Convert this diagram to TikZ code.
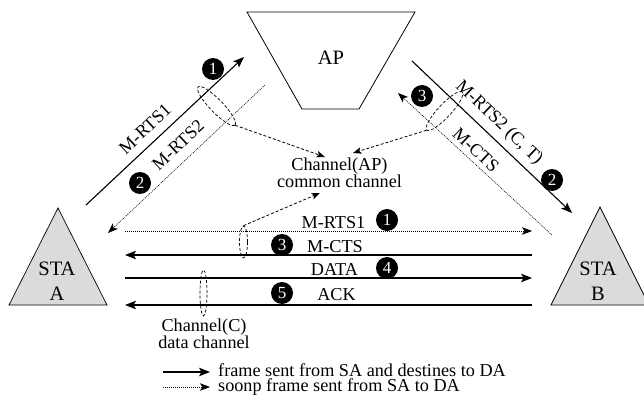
\documentclass[tikz,border=0pt]{standalone}
\usepackage{fontspec}
\setmainfont{Liberation Serif}
\usetikzlibrary{arrows.meta,shapes.geometric}
\definecolor{stagray}{gray}{0.86}
\begin{document}
\begin{tikzpicture}[x=1pt,y=-1pt,
  lbl/.style={font=\fontsize{18.2}{17}\selectfont, inner sep=0pt},
  big/.style={font=\fontsize{20.5}{25}\selectfont, inner sep=0pt},
  num/.style={circle, fill=black, text=white, minimum size=22pt, inner sep=0pt,
    font=\fontsize{17}{17}\selectfont},
  solidline/.style={line width=1.1pt},
  solidarrow/.style={solidline, -{Stealth[length=11pt,width=8.5pt,inset=2.5pt]}},
  dotline/.style={line width=0.6pt, dash pattern=on 1pt off 1pt},
  dotarrow/.style={dotline, -{Stealth[length=10pt,width=7.5pt,inset=2.5pt]}},
  chan/.style={draw, ellipse, line width=0.7pt, inner sep=0pt,
    dash pattern=on 3pt off 2pt},
  ptr/.style={line width=0.8pt, dash pattern=on 3pt off 2pt,
    -{Stealth[length=8.5pt,width=6.5pt,inset=2pt]}},
  station/.style={draw, line width=0.7pt, fill=stagray}
]
\useasboundingbox (0,0) rectangle (644,398);

% access point and the two stations
\draw[line width=0.8pt] (247,12) -- (415,12) -- (359,109) -- (302,109) -- cycle;
\node[big, anchor=base] (ap) at (331,65) {AP};
\draw[station] (58,208) -- (107,305) -- (9,305) -- cycle;
\draw[station] (600,207) -- (649,305) -- (551,305) -- cycle;
% multi-line nodes: the base anchor sits on the last line
\node[big, anchor=base, align=center] (staA) at (57,300) {STA\\A};
\node[big, anchor=base, align=center] (staB) at (598,300) {STA\\B};

% end points of the frames exchanged on the common channel
\coordinate (a1s) at (86,205);  \coordinate (a1e) at (244,57);
\coordinate (a2s) at (265,85);  \coordinate (a2e) at (108,233);
\coordinate (b1s) at (412,61);  \coordinate (b1e) at (572,213);
\coordinate (b2s) at (552,235); \coordinate (b2e) at (398,93);

\draw[solidarrow] (a1s) -- (a1e);
\draw[dotarrow] (a2s) -- (a2e);
\draw[solidarrow] (b1s) -- (b1e);
\draw[dotarrow] (b2s) -- (b2e);

\node[lbl, rotate=43] (lRTS1) at (145,129) {M-RTS1};
\node[lbl, rotate=43] (lRTS2) at (178,145) {M-RTS2};
\node[lbl, rotate=-43.5] (rRTS2) at (499,123) {M-RTS2 (C, T)};
\node[lbl, rotate=-43] (rCTS) at (476,150) {M-CTS};

\node[num] (n1a) at (213,69) {1};
\node[num] (n2a) at (140,183) {2};
\node[num] (n3b) at (422,96) {3};
\node[num] (n2b) at (552,180) {2};

% frames between the two stations
\coordinate (hL1) at (125,231); \coordinate (hR1) at (532,231);
\coordinate (hL2) at (125,255); \coordinate (hR2) at (532,255);
\coordinate (hL3) at (125,278); \coordinate (hR3) at (532,278);
\coordinate (hL4) at (125,305); \coordinate (hR4) at (532,305);
\draw[dotarrow] (hL1) -- (hR1);
\draw[solidarrow] (hR2) -- (hL2);
\draw[solidarrow] (hL3) -- (hR3);
\draw[solidarrow] (hR4) -- (hL4);

\node[lbl, anchor=base] (tRTS1) at (333.5,228) {M-RTS1};
\node[lbl, anchor=base] (tCTS) at (335,252) {M-CTS};
\node[lbl, anchor=base] (tDATA) at (334.5,275) {DATA};
\node[lbl, anchor=base] (tACK) at (336.5,300) {ACK};

\node[num] (n1h) at (387,220) {1};
\node[num] (n3h) at (282,245) {3};
\node[num] (n4h) at (387,268) {4};
\node[num] (n5h) at (282,293) {5};

% channel groupings
\node[chan, minimum width=53pt, minimum height=13pt, rotate=-46] (elA) at (216.5,106) {};
\node[chan, minimum width=52pt, minimum height=13pt, rotate=47] (elB) at (444.5,111) {};
\node[chan, minimum width=8pt, minimum height=32pt] (elM) at (243.5,242) {};
\node[chan, minimum width=7pt, minimum height=46pt] (elD) at (203.5,293) {};

\node[lbl, anchor=base, align=center] (chAP) at (339.5,187) {Channel(AP)\\common channel};
\node[lbl, anchor=base, align=center] (chC) at (204,348) {Channel(C)\\data channel};

\coordinate (apL) at (325,157);
\coordinate (apR) at (353,153);
\coordinate (apB) at (320,193);
\draw[ptr] (elA.east) -- (apL);
\draw[ptr] (elB.west) -- (apR);
\draw[ptr] (elM.north) -- (apB);

% legend
\coordinate (k1s) at (163,372); \coordinate (k1e) at (210,372);
\coordinate (k2s) at (163,387); \coordinate (k2e) at (210,387);
\draw[solidarrow] (k1s) -- (k1e);
\draw[dotarrow] (k2s) -- (k2e);
\node[lbl, anchor=base west] (key1) at (218,376) {frame sent from SA and destines to DA};
\node[lbl, anchor=base west] (key2) at (218,391) {soonp frame sent from SA to DA};
\end{tikzpicture}
\end{document}
